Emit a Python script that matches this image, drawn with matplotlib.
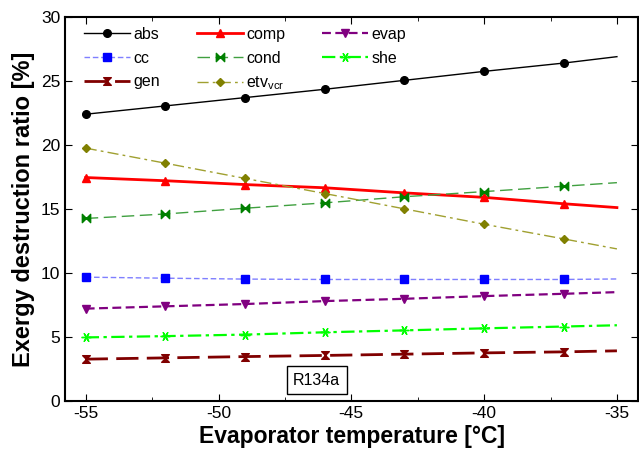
import matplotlib
matplotlib.use("Agg")
import matplotlib.pyplot as plt
from matplotlib.path import Path
from matplotlib.ticker import MultipleLocator

plt.rcParams['font.family'] = ['Liberation Sans', 'DejaVu Sans']
plt.rcParams['axes.unicode_minus'] = False

# Evaporator temperature [°C]; markers at all but the last point
temp = [-55, -52, -49, -46, -43, -40, -37, -35]

abs_r = [22.4, 23.05, 23.7, 24.35, 25.05, 25.75, 26.4, 26.9]
comp = [17.45, 17.2, 16.9, 16.65, 16.25, 15.9, 15.4, 15.1]
evap = [7.2, 7.38, 7.56, 7.79, 7.97, 8.18, 8.36, 8.49]
cc = [9.66, 9.58, 9.51, 9.48, 9.48, 9.48, 9.48, 9.52]
cond = [14.25, 14.6, 15.05, 15.47, 15.95, 16.35, 16.77, 17.05]
she = [4.95, 5.05, 5.17, 5.35, 5.5, 5.66, 5.8, 5.9]
gen = [3.25, 3.35, 3.45, 3.54, 3.64, 3.74, 3.82, 3.9]
etv = [19.75, 18.57, 17.38, 16.2, 15.0, 13.8, 12.65, 11.87]

labels = ['abs', 'comp', 'evap', 'cc', 'cond', 'she', 'gen', r'etv$_{\mathregular{vcr}}$']
xticks = [-55, -50, -45, -40, -35]
yticks = [0, 5, 10, 15, 20, 25, 30]

bowtie_h = Path([(-1, -1), (0, 0), (-1, 1), (-1, -1), (1, -1), (0, 0), (1, 1), (1, -1)],
                [Path.MOVETO, Path.LINETO, Path.LINETO, Path.CLOSEPOLY,
                 Path.MOVETO, Path.LINETO, Path.LINETO, Path.CLOSEPOLY])
bowtie_v = Path([(-1, 1), (0, 0), (1, 1), (-1, 1), (-1, -1), (0, 0), (1, -1), (-1, -1)],
                [Path.MOVETO, Path.LINETO, Path.LINETO, Path.CLOSEPOLY,
                 Path.MOVETO, Path.LINETO, Path.LINETO, Path.CLOSEPOLY])

fig = plt.figure(figsize=(6.39, 4.55), dpi=100)
ax = fig.add_axes([0.1017, 0.1193, 0.897, 0.8433])

me = list(range(7))
h = {}
h['abs'], = ax.plot(temp, abs_r, color='black', lw=1.0, marker='o', ms=5.5, markevery=me)
h['comp'], = ax.plot(temp, comp, color='#ff0000', lw=2.0, marker='^', ms=6, markevery=me)
h['evap'], = ax.plot(temp, evap, color='#800080', lw=1.6, ls=(0, (4, 2)), marker='v', ms=6, markevery=me)
h['cc'], = ax.plot(temp, cc, color='#7f7fff', lw=1.0, ls=(0, (4, 2)), marker='s', ms=5.5,
                   mfc='#0000ff', mec='#0000ff', markevery=me)
h['cond'], = ax.plot(temp, cond, color='#40a040', lw=1.0, ls=(0, (9, 4)), marker=bowtie_h, ms=6,
                     mfc='#008000', mec='#008000', markevery=me)
h['she'], = ax.plot(temp, she, color='#00ff00', lw=1.6, ls=(0, (6, 2, 1.5, 2)), marker=(6, 2, 30), ms=7,
                    markevery=me)
h['gen'], = ax.plot(temp, gen, color='#800000', lw=2.0, ls=(0, (8, 3)), marker=bowtie_v, ms=5.5,
                    mfc='#800000', mec='#800000', markevery=me)
h['etv'], = ax.plot(temp, etv, color='#a0a030', lw=1.0, ls=(0, (8, 3, 2, 3)), marker='D', ms=4,
                    mfc='#808000', mec='#808000', markevery=me)

order = ['abs', 'cc', 'gen', 'comp', 'cond', 'etv', 'evap', 'she']
lab_map = dict(zip(['abs', 'comp', 'evap', 'cc', 'cond', 'she', 'gen', 'etv'], labels))
leg = ax.legend([h[k] for k in order], [lab_map[k] for k in order], ncol=3, frameon=False,
                loc='upper left', bbox_to_anchor=(0.008, 1.012), fontsize=11.5,
                handlelength=2.9, handletextpad=0.2, columnspacing=2.3, labelspacing=0.55)

ax.set_xlim(-55.78, -34.2)
ax.set_ylim(0, 30)
ax.set_xticks(xticks)
ax.set_yticks(yticks)
ax.xaxis.set_minor_locator(MultipleLocator(2.5))
ax.tick_params(direction='in', which='both', top=True, right=True, labelsize=12.5)
ax.tick_params(which='major', length=5)
ax.tick_params(which='minor', length=3)
for s in ax.spines.values():
    s.set_linewidth(1.5)

ax.set_xlabel('Evaporator temperature [°C]', fontsize=16.5, fontweight='bold', labelpad=3)
ax.set_ylabel('Exergy destruction ratio [%]', fontsize=17, fontweight='bold', labelpad=4)

ax.text(-46.3, 1.6, 'R134a', fontsize=11.5, ha='center', va='center',
        bbox=dict(boxstyle='square,pad=0.4', fc='white', ec='black', lw=1.0))

fig.savefig('out.png', dpi=100)
